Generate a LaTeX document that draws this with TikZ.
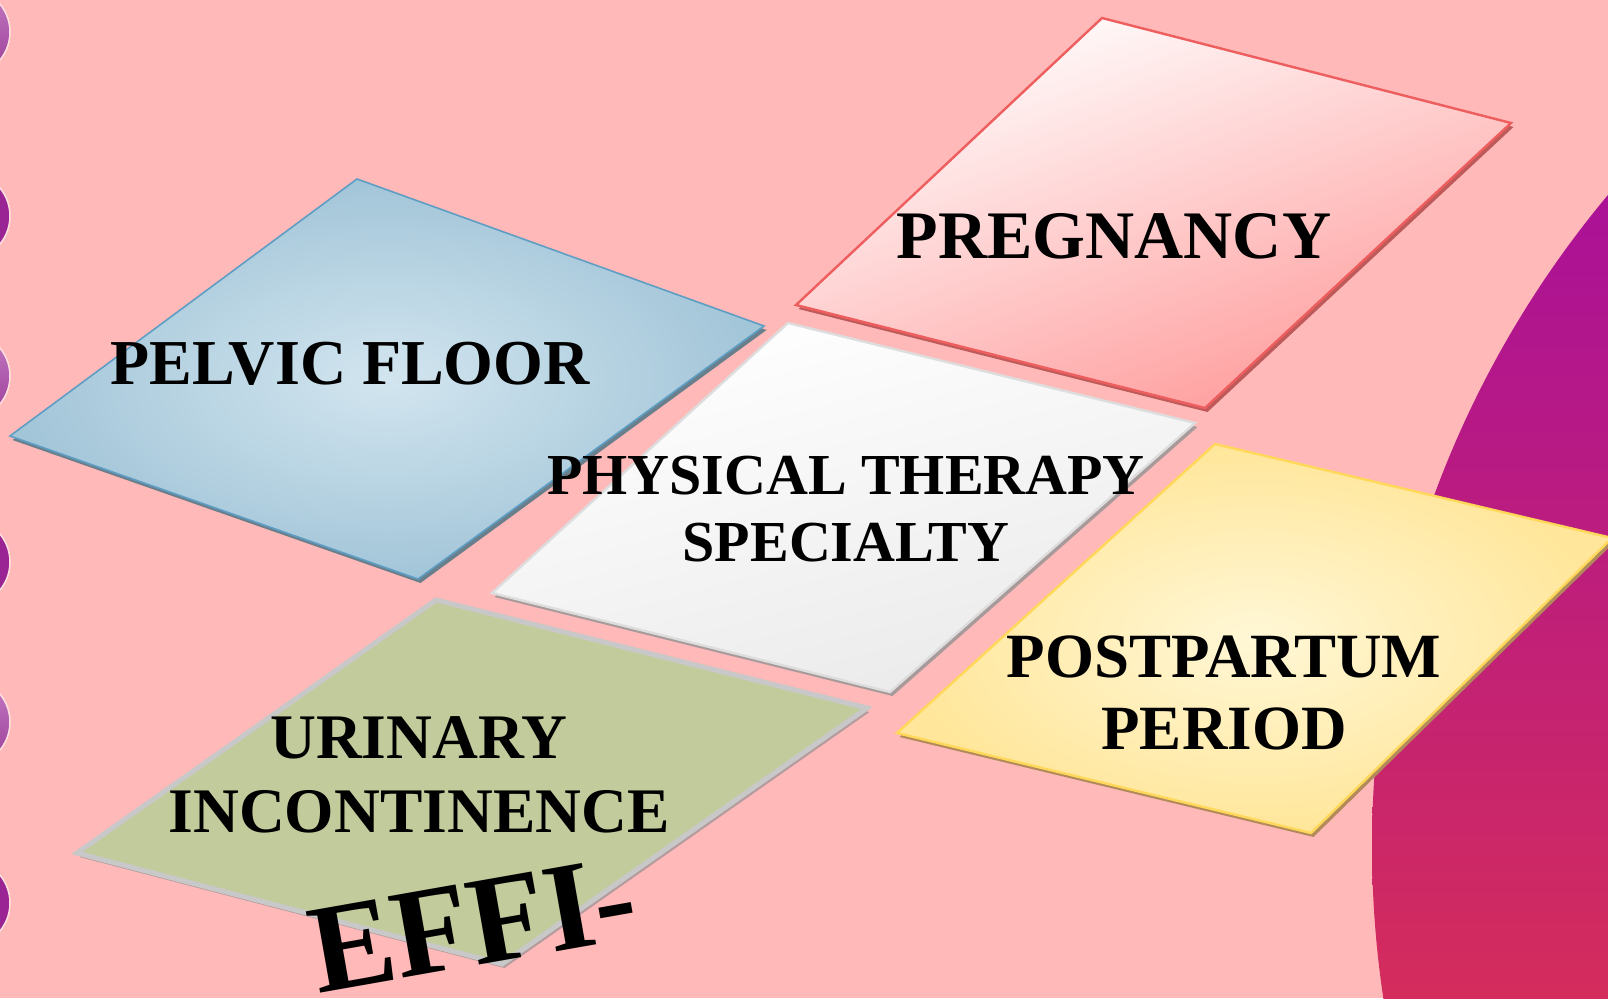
\documentclass[tikz,border=0pt]{standalone}
\usepackage{fontspec}
\setmainfont{Liberation Serif}
\usetikzlibrary{positioning}
\definecolor{bgPink}{HTML}{FFB9B9}
\definecolor{discTop}{HTML}{A8109A}
\definecolor{discBot}{HTML}{D42C5C}
\definecolor{dotLight}{HTML}{C57CC4}
\definecolor{dotLow}{HTML}{9A3C98}
\definecolor{dotDark}{HTML}{9A2494}
\definecolor{blueDark}{HTML}{A2C5D8}
\definecolor{blueLight}{HTML}{D2E5EF}
\definecolor{blueLine}{HTML}{5E9EC4}
\definecolor{blueShadow}{HTML}{6A7F8C}
\definecolor{pinkDark}{HTML}{FF9A9A}
\definecolor{pinkLine}{HTML}{EE5E5E}
\definecolor{pinkShadow}{HTML}{BF5A5A}
\definecolor{whiteLow}{HTML}{EAEAEA}
\definecolor{whiteLine}{HTML}{DDDDDD}
\definecolor{whiteShadow}{HTML}{A89A9A}
\definecolor{yellowDeep}{HTML}{FFE69A}
\definecolor{yellowPale}{HTML}{FFF7D6}
\definecolor{yellowLine}{HTML}{FFD85A}
\definecolor{yellowShadow}{HTML}{B38A5A}
\definecolor{greenFill}{HTML}{C2CB9B}
\definecolor{greenLine}{HTML}{C8C8C8}
\definecolor{greenShadow}{HTML}{B49C9E}
\tikzset{
  tile/.style={line join=miter},
  tshadow/.style={transform canvas={xshift=2.5pt,yshift=-4pt}},
  dotrim/.style={draw=white!55!bgPink, line width=1.5pt},
  lbl/.style={font=\bfseries, inner sep=0pt, align=center, text=black},
}

\begin{document}
\begin{tikzpicture}[x=1pt,y=-1pt]
    \useasboundingbox (0,0) rectangle (1608,998);
    \fill[bgPink] (0,0) rectangle (1608,998);
    % disc on the right
    \begin{scope}
      \clip (2388,846) circle (1016);
      \shade[top color=discTop,bottom color=discBot] (1300,150) rectangle (1608,998);
    \end{scope}
    % dots on the left edge
    \foreach \y/\k in {32/1,216/0,376/1,562/0,722/1,903/0}{
      \ifnum\k=1
        \shade[top color=dotLight,bottom color=dotLow,dotrim] (-34,\y) circle (44);
      \else
        \fill[dotDark,dotrim] (-34,\y) circle (44);
      \fi
    }
    % tiles
    \coordinate (pfT) at (357,179);  \coordinate (pfR) at (764,326);
    \coordinate (pfB) at (418,579);  \coordinate (pfL) at (10,436);
    \coordinate (prT) at (1102,18);  \coordinate (prR) at (1511,123);
    \coordinate (prB) at (1205,408); \coordinate (prL) at (796,305);
    \coordinate (ptT) at (788,323);  \coordinate (ptR) at (1195,423);
    \coordinate (ptB) at (890,692);  \coordinate (ptL) at (492,593);
    \coordinate (ppT) at (1215,444); \coordinate (ppR) at (1612,538);
    \coordinate (ppB) at (1311,833); \coordinate (ppL) at (897,733);
    \coordinate (uiT) at (436,600);  \coordinate (uiR) at (867,708);
    \coordinate (uiB) at (502,964);  \coordinate (uiL) at (77,853);

    \fill[blueShadow,tshadow] (pfT) -- (pfR) -- (pfB) -- (pfL) -- cycle;
    \shade[tile,inner color=blueLight,outer color=blueDark]
      (pfT) -- (pfR) -- (pfB) -- (pfL) -- cycle;
    \draw[tile,blueLine,line width=1.6pt] (pfT) -- (pfR) -- (pfB) -- (pfL) -- cycle;

    \fill[pinkShadow,tshadow] (prT) -- (prR) -- (prB) -- (prL) -- cycle;
    \shade[tile,top color=white,bottom color=pinkDark,shading angle=20]
      (prT) -- (prR) -- (prB) -- (prL) -- cycle;
    \draw[tile,pinkLine,line width=2.4pt] (prT) -- (prR) -- (prB) -- (prL) -- cycle;

    \fill[whiteShadow,tshadow] (ptT) -- (ptR) -- (ptB) -- (ptL) -- cycle;
    \shade[tile,top color=white,bottom color=whiteLow,shading angle=15]
      (ptT) -- (ptR) -- (ptB) -- (ptL) -- cycle;
    \draw[tile,whiteLine,line width=2.4pt] (ptT) -- (ptR) -- (ptB) -- (ptL) -- cycle;

    \fill[yellowShadow,tshadow] (ppT) -- (ppR) -- (ppB) -- (ppL) -- cycle;
    \shade[tile,inner color=yellowPale,outer color=yellowDeep]
      (ppT) -- (ppR) -- (ppB) -- (ppL) -- cycle;
    \draw[tile,yellowLine,line width=2.4pt] (ppT) -- (ppR) -- (ppB) -- (ppL) -- cycle;

    \fill[greenShadow,tshadow] (uiT) -- (uiR) -- (uiB) -- (uiL) -- cycle;
    \fill[tile,greenFill] (uiT) -- (uiR) -- (uiB) -- (uiL) -- cycle;
    \draw[tile,greenLine,line width=5pt] (uiT) -- (uiR) -- (uiB) -- (uiL) -- cycle;

    % labels
    \node[lbl,font=\fontsize{64}{70}\selectfont\bfseries] (pelvic) at (350,364) {PELVIC FLOOR};
    \node[lbl,font=\fontsize{68}{74}\selectfont\bfseries] (pregnancy) at (1114,236) {PREGNANCY};
    \node[lbl,font=\fontsize{58}{67}\selectfont\bfseries] (physical) at (846,509) {PHYSICAL THERAPY\\SPECIALTY};
    \node[lbl,font=\fontsize{63}{72}\selectfont\bfseries] (postpartum) at (1224,693) {POSTPARTUM\\PERIOD};
    \node[lbl,font=\fontsize{63.5}{74}\selectfont\bfseries] (urinary) at (419,775) {URINARY\\INCONTINENCE};
    \node[lbl,font=\fontsize{126}{130}\selectfont\bfseries,anchor=base,rotate=10] (effi) at (480,965) {EFFI-};
  \end{tikzpicture}
\end{document}
